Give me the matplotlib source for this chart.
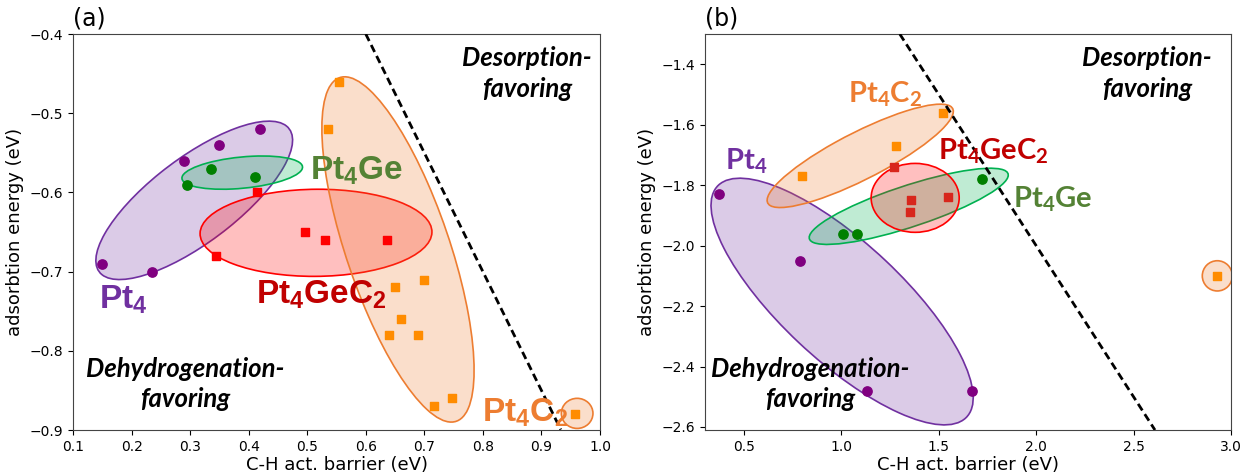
import numpy as np
import matplotlib
matplotlib.use("Agg")
import matplotlib.pyplot as plt
from matplotlib.patches import Ellipse
from matplotlib.transforms import Affine2D
from matplotlib.colors import to_rgba

plt.rcParams["mathtext.fontset"] = "custom"
plt.rcParams["mathtext.bf"] = "Liberation Sans:bold"
plt.rcParams["mathtext.sf"] = "Lato:bold"

# ---- panel (a) data ----
a_pt4_x = [0.15, 0.235, 0.29, 0.35, 0.42]
a_pt4_y = [-0.69, -0.70, -0.56, -0.54, -0.52]
a_ge_x = [0.295, 0.335, 0.41]
a_ge_y = [-0.59, -0.57, -0.58]
a_gec2_x = [0.415, 0.345, 0.497, 0.53, 0.637]
a_gec2_y = [-0.60, -0.68, -0.65, -0.66, -0.66]
a_c2_x = [0.555, 0.535, 0.65, 0.70, 0.66, 0.64, 0.69, 0.717, 0.748, 0.957]
a_c2_y = [-0.46, -0.52, -0.72, -0.71, -0.76, -0.78, -0.78, -0.87, -0.86, -0.88]

# ---- panel (b) data ----
b_pt4_x = [0.37, 0.79, 1.13, 1.67]
b_pt4_y = [-1.83, -2.05, -2.48, -2.48]
b_ge_x = [1.01, 1.08, 1.72]
b_ge_y = [-1.96, -1.96, -1.78]
b_gec2_x = [1.27, 1.36, 1.35, 1.55]
b_gec2_y = [-1.74, -1.85, -1.89, -1.84]
b_c2_x = [0.80, 1.28, 1.52, 2.93]
b_c2_y = [-1.77, -1.67, -1.56, -2.10]

# group spread ellipses: (cx, cy, half-extent x, half-extent y, correlation)
a_ell_pt4 = (0.307, -0.610, 0.168, 0.100, 0.76)
a_ell_ge = (0.389, -0.575, 0.103, 0.021, 0.33)
a_ell_gec2 = (0.515, -0.651, 0.198, 0.055, 0.02)
a_ell_c2 = (0.655, -0.672, 0.130, 0.218, -0.70)
a_ell_c2b = (0.961, -0.879, 0.027, 0.019, 0.0)

b_ell_pt4 = (1.004, -2.185, 0.673, 0.408, -0.78)
b_ell_ge = (1.346, -1.870, 0.511, 0.126, 0.82)
b_ell_gec2 = (1.379, -1.842, 0.226, 0.114, 0.0)
b_ell_c2 = (1.097, -1.703, 0.478, 0.171, 0.86)
b_ell_c2b = (2.93, -2.10, 0.077, 0.050, 0.0)

C_PT4 = "#7030A0"
C_GE = "#00B050"
C_GEC2 = "#FF0000"
C_C2 = "#ED7D31"

LBL_PT4 = "#7030A0"
LBL_GE = "#548235"
LBL_GEC2 = "#C00000"
LBL_C2 = "#ED7D31"


def draw_ellipse(ax, params, color):
    cx, cy, sx, sy, rho = params
    ell = Ellipse((0, 0), width=2 * np.sqrt(1 + rho), height=2 * np.sqrt(1 - rho),
                  facecolor=to_rgba(color, 0.25), edgecolor=color, lw=1.2, zorder=2)
    ell.set_transform(Affine2D().rotate_deg(45).scale(sx, sy).translate(cx, cy) + ax.transData)
    ax.add_patch(ell)


def region_text(ax, x, y1, y2, l1, l2):
    kw = dict(transform=ax.transAxes, ha="center", va="baseline", fontsize=18.5,
              family="Lato", weight="bold", style="italic", color="black", zorder=6)
    ax.text(x, y1, l1, **kw)
    ax.text(x, y2, l2, **kw)


fig = plt.figure(figsize=(12.44, 4.74), dpi=100)
ax1 = fig.add_axes([0.0587, 0.0928, 0.4236, 0.8354])
ax2 = fig.add_axes([0.5667, 0.0928, 0.4228, 0.8354])

# ---------------- panel (a) ----------------
ax = ax1
draw_ellipse(ax, a_ell_pt4, C_PT4)
draw_ellipse(ax, a_ell_ge, C_GE)
draw_ellipse(ax, a_ell_gec2, C_GEC2)
draw_ellipse(ax, a_ell_c2, C_C2)
draw_ellipse(ax, a_ell_c2b, C_C2)

ax.scatter(a_pt4_x, a_pt4_y, s=45, marker="o", color="purple", zorder=4)
ax.scatter(a_ge_x, a_ge_y, s=45, marker="o", color="green", zorder=4)
ax.scatter(a_gec2_x, a_gec2_y, s=40, marker="s", color="red", zorder=4)
ax.scatter(a_c2_x, a_c2_y, s=40, marker="s", color="darkorange", zorder=4)

xs = np.array([0.6, 0.933])
ax.plot(xs, -1.5 * xs + 0.5, color="black", lw=2, ls=(0, (2.8, 1.6)), zorder=5)

lkw = dict(ha="left", va="baseline", fontsize=24, zorder=6)
ax.text(0.505, -0.584, r"$\mathbf{Pt_4Ge}$", color=LBL_GE, **lkw)
ax.text(0.144, -0.747, r"$\mathbf{Pt_4}$", color=LBL_PT4, **lkw)
ax.text(0.413, -0.740, r"$\mathbf{Pt_4GeC_2}$", color=LBL_GEC2, **lkw)
ax.text(0.798, -0.890, r"$\mathbf{Pt_4C_2}$", color=LBL_C2, **lkw)

region_text(ax, 0.861, 0.919, 0.841, "Desorption-", "favoring")
region_text(ax, 0.2125, 0.134, 0.058, "Dehydrogenation-", "favoring")

ax.set_xlim(0.1, 1.0)
ax.set_ylim(-0.9, -0.4)
ax.set_xticks(np.arange(0.1, 1.01, 0.1))
ax.set_yticks(np.arange(-0.9, -0.39, 0.1))
ax.set_xlabel("C-H act. barrier (eV)", fontsize=13, labelpad=1.5)
ax.set_ylabel("adsorbtion energy (eV)", fontsize=13)
ax.text(0.0, 1.01, "(a)", transform=ax.transAxes, fontsize=17, ha="left", va="bottom")

# ---------------- panel (b) ----------------
ax = ax2
draw_ellipse(ax, b_ell_pt4, C_PT4)
draw_ellipse(ax, b_ell_ge, C_GE)
draw_ellipse(ax, b_ell_c2, C_C2)
draw_ellipse(ax, b_ell_gec2, C_GEC2)
draw_ellipse(ax, b_ell_c2b, C_C2)

ax.scatter(b_pt4_x, b_pt4_y, s=45, marker="o", color="purple", zorder=4)
ax.scatter(b_ge_x, b_ge_y, s=45, marker="o", color="green", zorder=4)
ax.scatter(b_gec2_x, b_gec2_y, s=40, marker="s", color="#d8261c", zorder=4)
ax.scatter(b_c2_x, b_c2_y, s=40, marker="s", color="darkorange", zorder=4)

xs = np.array([1.30, 2.61])
ax.plot(xs, -xs, color="black", lw=2, ls=(0, (2.8, 1.6)), zorder=5)

lkw = dict(ha="left", va="baseline", fontsize=21, zorder=6)
ax.text(1.035, -1.525, r"$\mathsf{Pt_4C_2}$", color=LBL_C2, **lkw)
ax.text(0.403, -1.747, r"$\mathsf{Pt_4}$", color=LBL_PT4, **lkw)
ax.text(1.497, -1.714, r"$\mathsf{Pt_4GeC_2}$", color=LBL_GEC2, **lkw)
ax.text(1.883, -1.873, r"$\mathsf{Pt_4Ge}$", color=LBL_GE, **lkw)

region_text(ax, 0.840, 0.919, 0.841, "Desorption-", "favoring")
region_text(ax, 0.200, 0.134, 0.058, "Dehydrogenation-", "favoring")

ax.set_xlim(0.3, 3.0)
ax.set_ylim(-2.61, -1.3)
ax.set_xticks(np.arange(0.5, 3.01, 0.5))
ax.set_yticks(np.arange(-2.6, -1.39, 0.2))
ax.set_xlabel("C-H act. barrier (eV)", fontsize=13, labelpad=1.5)
ax.set_ylabel("adsorbtion energy (eV)", fontsize=13)
ax.text(0.0, 1.01, "(b)", transform=ax.transAxes, fontsize=17, ha="left", va="bottom")

for a in (ax1, ax2):
    a.tick_params(labelsize=10)
    for sp in a.spines.values():
        sp.set_color("#444444")

fig.savefig("out.png", dpi=100)
